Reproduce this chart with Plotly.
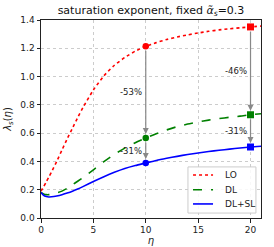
import plotly.graph_objects as go

# ---- data ----
eta = [0, 0.25, 0.5, 0.75, 1, 1.5, 2, 2.5, 3, 3.5, 4, 5, 6, 7, 8, 9, 10,
       11, 12, 13, 14, 15, 16, 17, 18, 19, 20, 21]
lo = [0.19, 0.22, 0.255, 0.29, 0.325, 0.40, 0.48, 0.56, 0.635, 0.71, 0.78,
      0.905, 1.005, 1.08, 1.135, 1.18, 1.214, 1.24, 1.262, 1.28, 1.295,
      1.308, 1.32, 1.33, 1.338, 1.345, 1.351, 1.357]
dl = [0.18, 0.17, 0.165, 0.165, 0.168, 0.178, 0.19, 0.21, 0.235, 0.26,
      0.285, 0.34, 0.398, 0.45, 0.494, 0.532, 0.565, 0.596, 0.623, 0.646,
      0.664, 0.679, 0.692, 0.703, 0.712, 0.72, 0.73, 0.737]
dlsl = [0.18, 0.16, 0.152, 0.149, 0.15, 0.156, 0.165, 0.177, 0.19, 0.205,
        0.222, 0.258, 0.292, 0.323, 0.35, 0.371, 0.389, 0.407, 0.422, 0.436,
        0.449, 0.46, 0.47, 0.479, 0.487, 0.495, 0.502, 0.507]
series_names = ["LO", "DL", "DL+SL"]
mark_eta = [10, 20]
mark_symbols = ["circle", "square"]
xticks = [0, 5, 10, 15, 20]
yticks = [0.0, 0.2, 0.4, 0.6, 0.8, 1.0, 1.2, 1.4]

colors = ["#ff0000", "#008000", "#0000ff"]
dashes = ["dot", "dash", "solid"]
FONT = "DejaVu Sans"

fig = go.Figure()
all_series = [lo, dl, dlsl]
for name, ys, c, d in zip(series_names, all_series, colors, dashes):
    fig.add_trace(go.Scatter(x=eta, y=ys, mode="lines", name=name, showlegend=False,
                             line=dict(color=c, dash=d, width=1.6, shape="spline",
                                       smoothing=0.6)))

# markers and arrows
for me, sym in zip(mark_eta, mark_symbols):
    i = eta.index(me)
    vals = [s[i] for s in all_series]
    for v, c in zip(vals, colors):
        fig.add_trace(go.Scatter(x=[me], y=[v], mode="markers", showlegend=False,
                                 marker=dict(color=c, symbol=sym,
                                             size=7 if sym == "square" else 6.5)))
    for a, b in [(vals[0], vals[1]), (vals[1], vals[2])]:
        fig.add_annotation(x=me, y=b, ax=me, ay=a, xref="x", yref="y",
                           axref="x", ayref="y", showarrow=True, text="",
                           arrowhead=2, arrowsize=1, arrowwidth=1.2,
                           arrowcolor="#888888", standoff=4, startstandoff=3)
        pct = round((b / a - 1) * 100)
        fig.add_annotation(x=me, y=(a + b) / 2, xref="x", yref="y",
                           text=f"-{abs(pct)}%", showarrow=False,
                           xanchor="right", xshift=-2,
                           font=dict(family=FONT, size=8.5, color="#222222"))

# compact legend (matplotlib-style), drawn in paper coordinates
leg_x0, leg_x1, leg_y0, leg_y1 = 0.668, 0.977, 0.025, 0.258
fig.add_shape(type="rect", xref="paper", yref="paper",
              x0=leg_x0, x1=leg_x1, y0=leg_y0, y1=leg_y1,
              fillcolor="rgba(255,255,255,0.85)", line=dict(color="#cccccc", width=1),
              layer="above")
row_y = [0.217, 0.143, 0.071]
for name, c, d, ry in zip(series_names, colors, dashes, row_y):
    fig.add_shape(type="line", xref="paper", yref="paper",
                  x0=0.691, x1=0.782, y0=ry, y1=ry,
                  line=dict(color=c, dash=d, width=1.6), layer="above")
    fig.add_annotation(x=0.828, y=ry, xref="paper", yref="paper", text=name,
                       showarrow=False, xanchor="left", yanchor="middle",
                       font=dict(family=FONT, size=9, color="#222222"))

axis_common = dict(showline=True, linecolor="#222222", linewidth=1, mirror=True,
                   ticks="outside", ticklen=3.5, tickcolor="#222222",
                   showgrid=True, gridcolor="#cccccc", griddash="dot", gridwidth=1,
                   zeroline=False, automargin=False,
                   tickfont=dict(family=FONT, size=9, color="#222222"))

fig.update_layout(
    width=274, height=247,
    margin=dict(l=41, r=13, t=20, b=29),
    paper_bgcolor="white", plot_bgcolor="white",
    title=dict(text="saturation exponent, fixed <i>α̃</i><sub><i>s</i></sub>=0.3",
               x=0.5, xref="paper", xanchor="center",
               y=1 - 10 / 247, yref="container", yanchor="middle",
               font=dict(family=FONT, size=11, color="#111111")),
    xaxis=dict(range=[0, 21], tickvals=xticks,
               title=dict(text="<i>η</i>", standoff=2,
                          font=dict(family=FONT, size=10, color="#222222")),
               **axis_common),
    yaxis=dict(range=[0, 1.4], tickvals=yticks, tickformat=".1f",
               title=dict(text="<i>λ</i><sub><i>s</i></sub>(<i>η</i>)", standoff=6,
                          font=dict(family=FONT, size=10, color="#222222")),
               **axis_common),
    showlegend=False,
)

fig.write_html("out.html", config={"displayModeBar": False},
               post_script="document.body.style.margin='0';")
